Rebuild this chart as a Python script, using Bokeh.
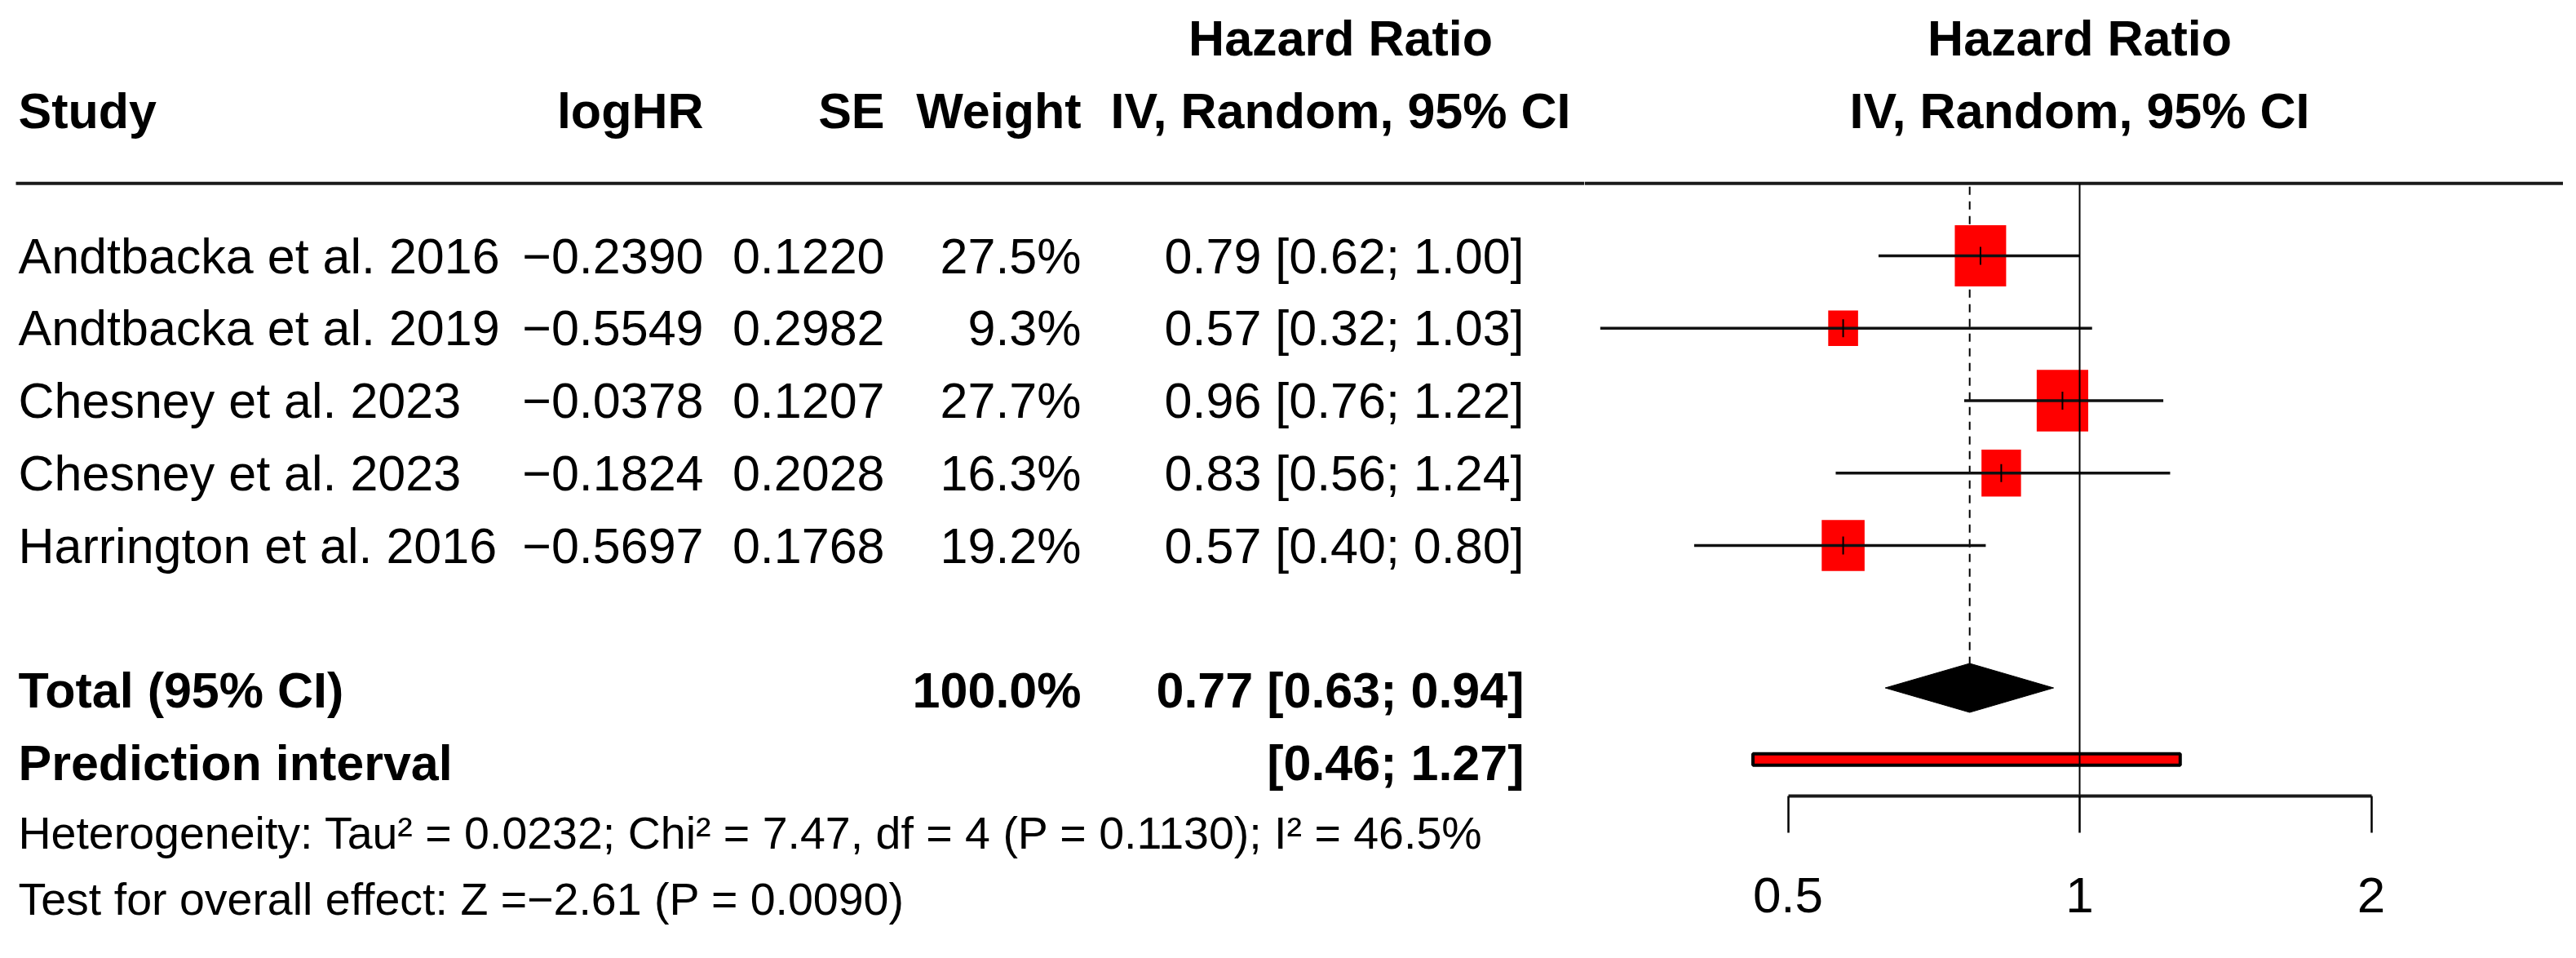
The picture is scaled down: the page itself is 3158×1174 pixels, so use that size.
import math
from bokeh.plotting import figure
from bokeh.layouts import row
from bokeh.models import Range1d, FixedTicker, ColumnDataSource
from bokeh.embed import file_html
from bokeh.resources import INLINE
from bokeh.core.properties import value

# ---------------- data ----------------
studies = ["Andtbacka et al. 2016", "Andtbacka et al. 2019", "Chesney et al. 2023",
           "Chesney et al. 2023", "Harrington et al. 2016"]
log_hr = [-0.2390, -0.5549, -0.0378, -0.1824, -0.5697]
se = [0.1220, 0.2982, 0.1207, 0.2028, 0.1768]
weights = [27.5, 9.3, 27.7, 16.3, 19.2]
hr = [0.79, 0.57, 0.96, 0.83, 0.57]
lower = [0.62, 0.32, 0.76, 0.56, 0.40]
upper = [1.00, 1.03, 1.22, 1.24, 0.80]
total_weight = 100.0
total_hr, total_lo, total_hi = 0.77, 0.63, 0.94
pred_lo, pred_hi = 0.46, 1.27
het_text = "Heterogeneity: Tau\u00b2 = 0.0232; Chi\u00b2 = 7.47, df = 4 (P = 0.1130); I\u00b2 = 46.5%"
test_text = "Test for overall effect: Z =\u22122.61 (P = 0.0090)"
ticks = [0.5, 1, 2]
tick_labels = ["0.5", "1", "2"]

# ---------------- layout (reference pixels, page shows 8..3150 x 8..1166) ----------------
W_REF, H_REF, M = 3158, 1174, 8
PAGE_W, PAGE_H = W_REF - 2 * M, H_REF - 2 * M
XS = 1950                      # split between table and forest panels
ROW0, RH = 321, 88.75
def ry(i):
    return ROW0 + RH * i
HET_Y, TEST_Y = 1028, 1109
X_STUDY, X_LOGHR, X_SE, X_W, X_CI, X_HDR = 30, 870, 1092, 1333, 1876, 1651
X_NULL, PX_LOG2 = 2557, 357.5
AXIS_Y = 983
FONT = value("Liberation Sans")
FS = "61px"
FS_SMALL = "55.5px"

def fmt(v):
    return ("%.4f" % v).replace("-", "\u2212")

# ---------------- table panel ----------------
w1 = XS - M
p1 = figure(width=w1, height=PAGE_H, x_range=Range1d(M, XS), y_range=Range1d(H_REF - M, M),
            output_backend="svg", toolbar_location=None, min_border=0,
            x_axis_location=None, y_axis_location=None)
p1.grid.visible = False
p1.outline_line_color = None
p1.frame_align = False

def txt(p, x, y, t, align="left", bold=False, size=FS):
    p.text(x=x, y=y, text=t, text_font=FONT, text_font_size=size,
           text_font_style="bold" if bold else "normal",
           text_align=align, text_baseline="middle", text_color="black")

# headers
txt(p1, [X_HDR], [ry(-3)], ["Hazard Ratio"], "center", True)
txt(p1, [X_STUDY], [ry(-2)], ["Study"], "left", True)
txt(p1, [X_LOGHR], [ry(-2)], ["logHR"], "right", True)
txt(p1, [X_SE], [ry(-2)], ["SE"], "right", True)
txt(p1, [X_W], [ry(-2)], ["Weight"], "right", True)
txt(p1, [X_HDR], [ry(-2)], ["IV, Random, 95% CI"], "center", True)
p1.segment(x0=[27], y0=[ry(-1)], x1=[XS], y1=[ry(-1)], line_color="#1a1a1a", line_width=4)

ys = [ry(i) for i in range(len(studies))]
txt(p1, [X_STUDY] * 5, ys, studies, "left")
txt(p1, [X_LOGHR] * 5, ys, [fmt(v) for v in log_hr], "right")
txt(p1, [X_SE] * 5, ys, ["%.4f" % v for v in se], "right")
txt(p1, [X_W] * 5, ys, ["%.1f%%" % w for w in weights], "right")
txt(p1, [X_CI] * 5, ys, ["%.2f [%.2f; %.2f]" % (a, b, c) for a, b, c in zip(hr, lower, upper)], "right")

txt(p1, [X_STUDY], [ry(6)], ["Total (95% CI)"], "left", True)
txt(p1, [X_W], [ry(6)], ["%.1f%%" % total_weight], "right", True)
txt(p1, [X_CI], [ry(6)], ["%.2f [%.2f; %.2f]" % (total_hr, total_lo, total_hi)], "right", True)
txt(p1, [X_STUDY], [ry(7)], ["Prediction interval"], "left", True)
txt(p1, [X_CI], [ry(7)], ["[%.2f; %.2f]" % (pred_lo, pred_hi)], "right", True)
txt(p1, [X_STUDY], [HET_Y], [het_text], "left", size=FS_SMALL)
txt(p1, [X_STUDY], [TEST_Y], [test_text], "left", size=FS_SMALL)

# ---------------- forest panel ----------------
def px2hr(px):
    return 2 ** ((px - X_NULL) / PX_LOG2)

w2 = PAGE_W - w1
p2 = figure(width=w2, height=PAGE_H, x_axis_type="log",
            x_range=Range1d(px2hr(XS), px2hr(W_REF - M)), y_range=Range1d(AXIS_Y, M),
            output_backend="svg", toolbar_location=None, min_border=0,
            min_border_bottom=(H_REF - M) - AXIS_Y, y_axis_location=None)
p2.grid.visible = False
p2.outline_line_color = None
p2.frame_align = False

txt(p2, [1], [ry(-3)], ["Hazard Ratio"], "center", True)
txt(p2, [1], [ry(-2)], ["IV, Random, 95% CI"], "center", True)
p2.segment(x0=[px2hr(XS)], y0=[ry(-1)], x1=[px2hr(3152)], y1=[ry(-1)],
           line_color="#1a1a1a", line_width=4)

# dashed summary line
diam_half = 30
p2.segment(x0=[total_hr], y0=[ry(-1) + 4], x1=[total_hr], y1=[ry(6) - diam_half],
           line_color="black", line_width=2, line_dash="10 8")

src = ColumnDataSource(dict(
    hr=hr, lo=lower, hi=upper, y=ys,
    bw=[12.0 * math.sqrt(w) for w in weights],
    bh=[14.3 * math.sqrt(w) for w in weights],
    yt=[y - 11 for y in ys], yb=[y + 11 for y in ys]))
p2.rect(x="hr", y="y", width="bw", height="bh", width_units="screen", height_units="screen",
        source=src, fill_color="#ff0000", line_color=None)
p2.segment(x0="lo", y0="y", x1="hi", y1="y", source=src, line_color="#111111", line_width=3.5)
p2.segment(x0="hr", y0="yt", x1="hr", y1="yb", source=src, line_color="black", line_width=2)

# summary diamond
yc = ry(6) - 3
p2.patch(x=[total_lo, total_hr, total_hi, total_hr],
         y=[yc, yc - diam_half, yc, yc + diam_half], fill_color="black", line_color="black")

# prediction interval
yp = ry(7) - 4
p2.quad(left=[pred_lo], right=[pred_hi], top=[yp - 7], bottom=[yp + 7],
        fill_color="#ff0000", line_color="black", line_width=4)

# null line
p2.segment(x0=[1], y0=[ry(-1)], x1=[1], y1=[AXIS_Y], line_color="black", line_width=2)

ax = p2.xaxis[0]
ax.ticker = FixedTicker(ticks=ticks)
ax.bounds = (ticks[0], ticks[-1])
ax.major_label_overrides = {t: l for t, l in zip(ticks, tick_labels)}
ax.axis_line_width = 4
ax.axis_line_color = "#1a1a1a"
ax.major_tick_line_width = 2.5
ax.major_tick_line_color = "black"
ax.major_tick_out = 45
ax.major_tick_in = 0
ax.minor_tick_line_color = None
ax.major_label_text_font = "Liberation Sans"
ax.major_label_text_font_size = "62px"
ax.major_label_text_color = "black"
ax.major_label_standoff = 55

layout = row(p1, p2)
open("out.html", "w").write(file_html(layout, INLINE))
